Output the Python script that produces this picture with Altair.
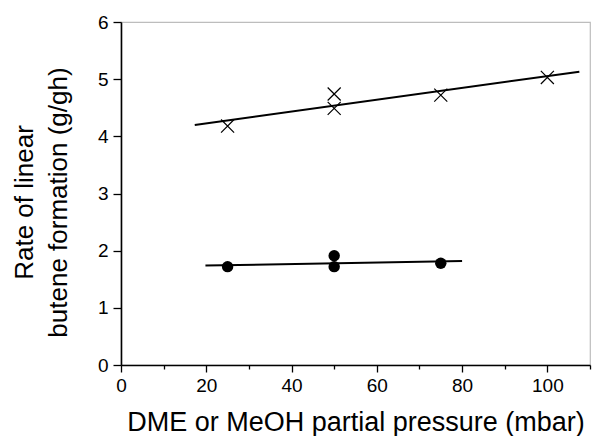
import altair as alt
import pandas as pd

# DME series (crosses)
x_cross = [25, 50, 50, 75, 100]
y_cross = [4.18, 4.74, 4.49, 4.72, 5.03]
# MeOH series (filled circles)
x_circle = [25, 50, 50, 75]
y_circle = [1.72, 1.91, 1.72, 1.78]
# fitted lines (end points)
x_fit_cross = [17.3, 107.5]
y_fit_cross = [4.20, 5.13]
x_fit_circle = [19.8, 80.0]
y_fit_circle = [1.74, 1.82]

x_ticks = [0, 10, 20, 30, 40, 50, 60, 70, 80, 90, 100, 110]
y_ticks = [0, 0.5, 1, 1.5, 2, 2.5, 3, 3.5, 4, 4.5, 5, 5.5, 6]

df_cross = pd.DataFrame({"x": x_cross, "y": y_cross})
df_circle = pd.DataFrame({"x": x_circle, "y": y_circle})
df_fit = pd.DataFrame({
    "x": x_fit_cross + x_fit_circle,
    "y": y_fit_cross + y_fit_circle,
    "s": ["DME", "DME", "MeOH", "MeOH"],
})

FONT = "Liberation Sans"

xscale = alt.Scale(domain=[0, 110], nice=False, zero=False)
yscale = alt.Scale(domain=[0, 6], nice=False, zero=False)

xaxis = alt.Axis(
    values=x_ticks,
    labelExpr="datum.value % 20 == 0 && datum.value <= 100 ? format(datum.value, 'd') : ''",
    tickSize={"condition": {"test": "datum.value % 20 == 0", "value": 7}, "value": 4},
    tickColor="black", domainColor="black", tickWidth=1.3, domainWidth=1.6,
    labelFont=FONT, labelFontSize=19, labelColor="black", labelPadding=4,
    labelFlush=False,
    grid=False,
    title="DME or MeOH partial pressure (mbar)",
    titleFont=FONT, titleFontSize=27, titleFontWeight="normal", titleColor="black",
    titleBaseline="middle", titleY=57,
)
yaxis = alt.Axis(
    values=y_ticks,
    labelExpr="datum.value % 1 == 0 ? format(datum.value, 'd') : ''",
    tickSize={"condition": {"test": "datum.value % 1 == 0", "value": 8}, "value": 4},
    tickColor="black", domainColor="black", tickWidth=1.3, domainWidth=1.6,
    labelFont=FONT, labelFontSize=19, labelColor="black", labelPadding=5,
    labelFlush=False,
    grid=False,
    title=["Rate of linear", "butene formation (g/gh)"],
    titleFont=FONT, titleFontSize=26, titleFontWeight="normal", titleColor="black",
    titleBaseline="middle", titleAlign="center", titleLineHeight=34,
    titleX=-97, titleY=180, titleAngle=270,
)

X_PATH = "M-1,-1L1,1M-1,1L1,-1"

fit = alt.Chart(df_fit).mark_line(color="black", strokeWidth=2).encode(
    x=alt.X("x:Q", scale=xscale, axis=xaxis),
    y=alt.Y("y:Q", scale=yscale, axis=yaxis),
    detail="s:N",
)
crosses = alt.Chart(df_cross).mark_point(
    shape=X_PATH, size=170, color="black", strokeWidth=1.2, filled=False, opacity=1
).encode(x=alt.X("x:Q", scale=xscale), y=alt.Y("y:Q", scale=yscale))
circles = alt.Chart(df_circle).mark_point(
    shape="circle", size=130, color="black", filled=True, opacity=1
).encode(x=alt.X("x:Q", scale=xscale), y=alt.Y("y:Q", scale=yscale))

chart = alt.layer(fit, crosses, circles).properties(
    width=469, height=343,
    autosize=alt.AutoSizeParams(type="none"),
    padding={"left": 121, "top": 22, "right": 2, "bottom": 71},
    background="white",
).configure_view(stroke="#bdbdbd", strokeWidth=1.2)

chart.save("out.html", embed_options={"renderer": "svg", "actions": False})
